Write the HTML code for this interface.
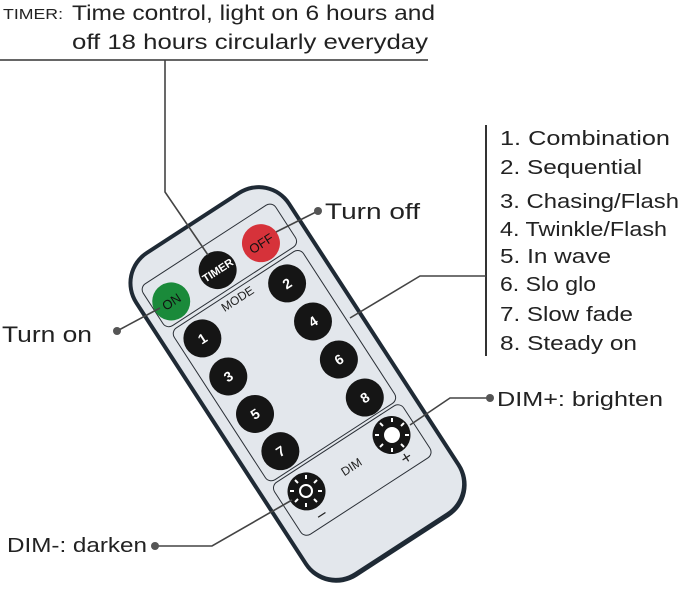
<!DOCTYPE html>
<html><head><style>html,body{margin:0;padding:0;background:#fff;}svg{display:block}</style></head>
<body>
<svg width="679" height="597" viewBox="0 0 679 597" xmlns="http://www.w3.org/2000/svg" font-family="Liberation Sans, DejaVu Sans, sans-serif">
<g fill="#222">
<text x="3" y="19" font-size="15" textLength="60" lengthAdjust="spacingAndGlyphs">TIMER:</text>
<text x="72" y="20" font-size="21" textLength="363" lengthAdjust="spacingAndGlyphs">Time control, light on 6 hours and</text>
<text x="72" y="49" font-size="21" textLength="356" lengthAdjust="spacingAndGlyphs">off 18 hours circularly everyday</text>
<text x="325" y="219" font-size="22" textLength="95" lengthAdjust="spacingAndGlyphs">Turn off</text>
<text x="2" y="342" font-size="22" textLength="90" lengthAdjust="spacingAndGlyphs">Turn on</text>
<text x="497" y="406" font-size="20" textLength="166" lengthAdjust="spacingAndGlyphs">DIM+: brighten</text>
<text x="7" y="552" font-size="20" textLength="140" lengthAdjust="spacingAndGlyphs">DIM-: darken</text>
<g font-size="20">
<text x="500" y="145" textLength="170" lengthAdjust="spacingAndGlyphs">1. Combination</text>
<text x="500" y="174" textLength="142" lengthAdjust="spacingAndGlyphs">2. Sequential</text>
<text x="500" y="208" textLength="179" lengthAdjust="spacingAndGlyphs">3. Chasing/Flash</text>
<text x="500" y="236" textLength="167" lengthAdjust="spacingAndGlyphs">4. Twinkle/Flash</text>
<text x="500" y="263" textLength="111" lengthAdjust="spacingAndGlyphs">5. In wave</text>
<text x="500" y="291" textLength="96" lengthAdjust="spacingAndGlyphs">6. Slo glo</text>
<text x="500" y="321" textLength="133" lengthAdjust="spacingAndGlyphs">7. Slow fade</text>
<text x="500" y="350" textLength="137" lengthAdjust="spacingAndGlyphs">8. Steady on</text>
</g>
</g>
<g stroke="#333" stroke-width="1.6" fill="none">
<line x1="0" y1="60" x2="428" y2="60"/>
<line x1="486" y1="125" x2="486" y2="356" stroke-width="2"/>
</g>
<!-- remote -->
<g transform="translate(298,392) rotate(-33)">
<rect x="-89" y="-201" width="186" height="388" rx="38" fill="#1f2a35"/>
<rect x="-85" y="-197" width="178" height="379" rx="34" fill="#e3e7ec"/>
<g fill="none" stroke="#2a2f36" stroke-width="1">
<rect x="-76" y="-174" width="158" height="50" rx="7"/>
<rect x="-74" y="-120" width="154" height="181" rx="7"/>
<rect x="-74" y="64" width="154" height="62" rx="7"/>
</g>
<g fill="#151515">
<circle cx="-57" cy="-145" r="19" fill="#1a8a3a"/>
<circle cx="-1" cy="-146" r="19"/>
<circle cx="50" cy="-145" r="19" fill="#d6323a"/>
<circle cx="-51" cy="-97" r="19"/><circle cx="50" cy="-97" r="19"/>
<circle cx="-50" cy="-51" r="19"/><circle cx="51" cy="-51" r="19"/>
<circle cx="-48" cy="-5" r="19"/><circle cx="52" cy="-5" r="19"/>
<circle cx="-47" cy="40" r="19"/><circle cx="53" cy="41" r="19"/>
<circle cx="-47" cy="88" r="19"/><circle cx="55" cy="87" r="19"/>
</g>
<g font-weight="bold" font-size="14" fill="#fff" text-anchor="middle">
<text x="-57" y="-140" fill="#111" font-weight="normal" font-size="13">ON</text>
<text x="-1" y="-142" font-size="11">TIMER</text>
<text x="50" y="-140" fill="#111" font-weight="normal" font-size="13">OFF</text>
<text x="-51" y="-92">1</text><text x="50" y="-92">2</text>
<text x="-50" y="-46">3</text><text x="51" y="-46">4</text>
<text x="-48" y="0">5</text><text x="52" y="0">6</text>
<text x="-47" y="45">7</text><text x="53" y="46">8</text>
</g>
<g font-size="12" fill="#222" text-anchor="middle">
<text x="0" y="-107">MODE</text>
<text x="4" y="96">DIM</text>
<text x="55" y="120" font-size="18">+</text>
<text x="-47" y="122" font-size="18">−</text>
</g>
</g>
<!-- sun icons -->
<g stroke="#fff" stroke-width="2">
<circle cx="392" cy="435" r="7" fill="#fff"/>
<circle cx="306" cy="491" r="6" fill="none"/>
<path d="M392 422v-4M392 448v4M379 435h-4M405 435h4M383 426l-3-3M401 444l3 3M401 426l3-3M383 444l-3 3"/>
<path d="M306 479v-4M306 503v4M294 491h-4M318 491h4M298 483l-3-3M314 499l3 3M314 483l3-3M298 499l-3 3"/>
</g>
<!-- connectors -->
<g stroke="#444" stroke-width="1.6" fill="none">
<polyline points="165,60 165,192 208,255"/>
<line x1="318" y1="211" x2="276" y2="232"/>
<line x1="117" y1="331" x2="160" y2="308"/>
<polyline points="486,276 420,276 350,318"/>
<polyline points="490,398 450,398 410,425"/>
<polyline points="155,546 212,546 292,500"/>
</g>
<g fill="#555">
<circle cx="318" cy="211" r="4"/><circle cx="117" cy="331" r="4"/>
<circle cx="490" cy="398" r="4"/><circle cx="155" cy="546" r="4"/>
</g>
</svg>
</body></html>
